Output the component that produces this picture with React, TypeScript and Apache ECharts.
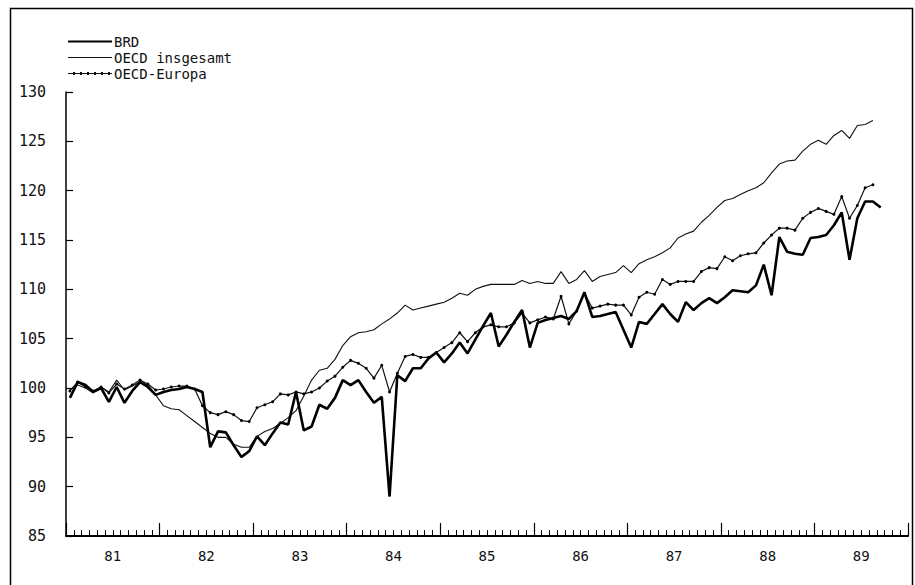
import React, { useEffect, useRef } from "react";
import * as echarts from "echarts";

const yearLabels = ["81", "82", "83", "84", "85", "86", "87", "88", "89"];
const yTicks = { min: 85, max: 130, step: 5 };

const brd = [
  99.0, 100.6, 100.3, 99.6, 100.0, 98.6, 100.1, 98.5, 99.7, 100.6, 100.1, 99.3,
  99.6, 99.8, 99.9, 100.1, 99.9, 99.6, 94.0, 95.6, 95.5, 94.2, 93.0, 93.6,
  95.1, 94.2, 95.4, 96.5, 96.3, 99.6, 95.7, 96.1, 98.3, 97.9, 99.0, 100.8,
  100.3, 100.8, 99.6, 98.5, 99.1, 89.0, 101.3, 100.7, 102.0, 102.0, 103.0, 103.6,
  102.6, 103.5, 104.6, 103.5, 104.9, 106.3, 107.6, 104.2, 105.4, 106.7, 107.9, 104.1,
  106.6, 106.9, 107.1, 107.3, 107.0, 107.8, 109.7, 107.2, 107.3, 107.5, 107.7, 105.9,
  104.1, 106.7, 106.5, 107.5, 108.5, 107.5, 106.7, 108.7, 107.9, 108.6, 109.1, 108.6,
  109.2, 109.9, 109.8, 109.7, 110.4, 112.5, 109.4, 115.3, 113.8, 113.6, 113.5, 115.2,
  115.3, 115.5, 116.5, 117.8, 113.0, 117.2, 118.9, 118.9, 118.3,
];

const oecdTotal = [
  99.8, 100.3, 100.0, 99.5, 100.1, 99.6, 100.8, 99.8, 100.2, 100.6, 100.3, 99.3,
  98.2, 97.9, 97.8, 97.2, 96.6, 96.0, 95.4, 95.0, 95.0, 94.3, 94.0, 94.0,
  95.1, 95.6, 95.9, 96.4, 97.0, 97.7, 99.2, 100.8, 101.8, 102.0, 102.9, 104.3,
  105.2, 105.6, 105.7, 105.9, 106.5, 107.0, 107.6, 108.4, 107.9, 108.1, 108.3, 108.5,
  108.7, 109.1, 109.6, 109.4, 110.0, 110.3, 110.5, 110.5, 110.5, 110.5, 110.9, 110.6,
  110.8, 110.6, 110.6, 111.8, 110.6, 111.0, 111.9, 110.8, 111.3, 111.5, 111.7, 112.4,
  111.7, 112.6, 113.0, 113.3, 113.7, 114.2, 115.2, 115.6, 115.9, 116.8, 117.5, 118.3,
  119.0, 119.2, 119.6, 120.0, 120.3, 120.8, 121.8, 122.7, 123.0, 123.1, 124.0, 124.7,
  125.1, 124.7, 125.6, 126.1, 125.3, 126.6, 126.7, 127.1,
];

const oecdEurope = [
  99.7, 100.6, 100.1, 99.7, 100.1, 99.5, 100.4, 99.9, 100.3, 100.8, 100.4, 99.8,
  99.9, 100.1, 100.2, 100.2, 99.9, 98.2, 97.5, 97.3, 97.6, 97.3, 96.7, 96.6,
  98.0, 98.3, 98.6, 99.4, 99.3, 99.6, 99.4, 99.6, 100.0, 100.7, 101.2, 102.1,
  102.8, 102.5, 102.0, 101.0, 102.3, 99.6, 101.5, 103.2, 103.4, 103.1, 103.1, 103.6,
  104.1, 104.6, 105.6, 104.7, 105.6, 106.2, 106.4, 106.2, 106.2, 106.6, 107.6, 106.6,
  106.9, 107.2, 107.0, 109.3, 106.5, 107.8, 109.6, 108.1, 108.3, 108.5, 108.4, 108.4,
  107.4, 109.2, 109.7, 109.5, 111.0, 110.5, 110.8, 110.8, 110.8, 111.8, 112.2, 112.1,
  113.3, 112.9, 113.4, 113.6, 113.7, 114.7, 115.5, 116.2, 116.2, 116.0, 117.2, 117.8,
  118.2, 117.9, 117.6, 119.4, 117.2, 118.5, 120.3, 120.6,
];

const seriesNames = ["BRD", "OECD insgesamt", "OECD-Europa"];

const toPoints = (vals: number[]) => vals.map((v, i) => [i + 0.5, v]);

const FONT = "DejaVu Sans Mono";

// legend sample glyphs, each drawn in a 44 x 4 box (tiny corner marks fix the box)
const BOX = " M0,0 h0.01 v0.01 h-0.01 Z M44,4 h-0.01 v-0.01 h0.01 Z";
const iconThick = "path://M0,0.9 H44 V3.1 H0 Z" + BOX;
const iconThin = "path://M0,1.5 H44 V2.5 H0 Z" + BOX;
const iconDotted =
  "path://M0,1.5 H44 V2.5 H0 Z M5,0.6 h2 v2.8 h-2 Z M12,0.6 h2 v2.8 h-2 Z M19,0.6 h2 v2.8 h-2 Z M26,0.6 h2 v2.8 h-2 Z M33,0.6 h2 v2.8 h-2 Z M40,0.6 h2 v2.8 h-2 Z" +
  BOX;

export default function App() {
  const ref = useRef<HTMLDivElement>(null);
  useEffect(() => {
    if (!ref.current) return;
    const chart = echarts.init(ref.current, null, { renderer: "svg" });
    const months = yearLabels.length * 12;
    chart.setOption({
      animation: false,
      backgroundColor: "#ffffff",
      textStyle: { fontFamily: FONT, color: "#111" },
      grid: { left: 66, right: 7, top: 92, bottom: 49, containLabel: false },
      legend: {
        orient: "vertical",
        left: 68,
        top: 34,
        itemGap: 1,
        itemWidth: 44,
        itemHeight: 4,
        padding: 0,
        symbolKeepAspect: false,
        data: [
          { name: seriesNames[0], icon: iconThick, itemStyle: { color: "#000" } },
          { name: seriesNames[1], icon: iconThin, itemStyle: { color: "#111" } },
          { name: seriesNames[2], icon: iconDotted, itemStyle: { color: "#111" } },
        ],
        textStyle: { fontFamily: FONT, fontSize: 14, lineHeight: 15, color: "#111", padding: [0, 0, 0, -3] },
      },
      xAxis: [
        {
          type: "value",
          min: 0,
          max: months,
          interval: 12,
          axisLine: { show: true, lineStyle: { color: "#000", width: 2 } },
          axisTick: { show: true, inside: true, length: 13, lineStyle: { color: "#000", width: 1.2 } },
          minorTick: { show: true, splitNumber: 12, length: 6, lineStyle: { color: "#000", width: 1 } },
          axisLabel: { show: false },
          splitLine: { show: false },
        },
        {
          type: "category",
          position: "bottom",
          data: yearLabels,
          boundaryGap: true,
          axisLine: { show: false },
          axisTick: { show: false },
          axisLabel: { fontFamily: FONT, fontSize: 14, color: "#111", margin: 13 },
          splitLine: { show: false },
        },
      ],
      yAxis: {
        type: "value",
        min: yTicks.min,
        max: yTicks.max,
        interval: yTicks.step,
        axisLine: { show: true, lineStyle: { color: "#000", width: 1.5 } },
        axisTick: { show: true, inside: true, length: 7, lineStyle: { color: "#000", width: 1.2 } },
        axisLabel: { fontFamily: FONT, fontSize: 15, color: "#111", margin: 20, padding: [0, 0, 9, 0] },
        splitLine: { show: false },
      },
      graphic: [
        {
          type: "rect",
          shape: { x: 10.5, y: 8.5, width: 902, height: 600 },
          style: { fill: "none", stroke: "#000", lineWidth: 1.5 },
          silent: true,
        },
      ],
      series: [
        {
          name: seriesNames[0],
          type: "line",
          xAxisIndex: 0,
          data: toPoints(brd),
          symbol: "none",
          lineStyle: { color: "#000", width: 2.6 },
          itemStyle: { color: "#000" },
          z: 3,
        },
        {
          name: seriesNames[1],
          type: "line",
          xAxisIndex: 0,
          data: toPoints(oecdTotal),
          symbol: "none",
          lineStyle: { color: "#111", width: 1.1 },
          itemStyle: { color: "#111" },
          z: 2,
        },
        {
          name: seriesNames[2],
          type: "line",
          xAxisIndex: 0,
          data: toPoints(oecdEurope),
          symbol: "circle",
          symbolSize: 3,
          showSymbol: true,
          lineStyle: { color: "#111", width: 1.2 },
          itemStyle: { color: "#000" },
          z: 2,
        },
      ],
    });
    return () => chart.dispose();
  }, []);
  return (
    <div
      ref={ref}
      style={{ position: "fixed", left: 0, top: 0, width: 915, height: 585, background: "#fff" }}
    />
  );
}
